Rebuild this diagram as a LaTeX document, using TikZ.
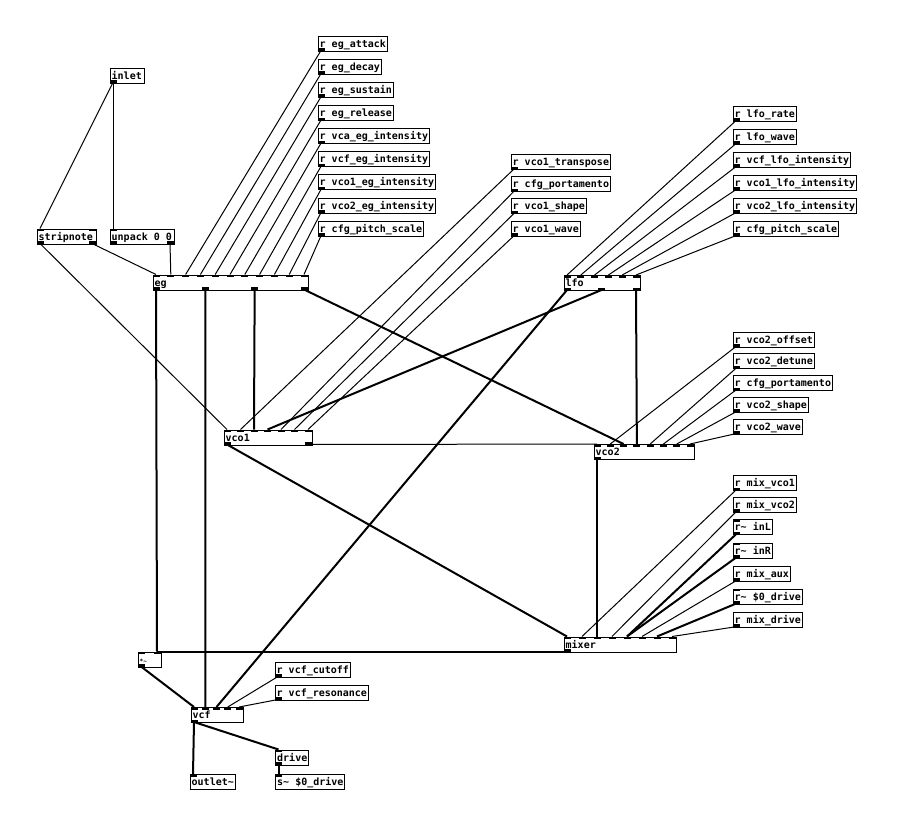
\documentclass[tikz,border=0pt]{standalone}
\usepackage{fontspec}
\setmonofont{DejaVu Sans Mono}
\usetikzlibrary{calc}
\tikzset{
  pdb/.style={draw, line width=1pt, minimum height=15pt, inner sep=0pt, anchor=north west},
  pdtxt/.style={font=\ttfamily\bfseries\fontsize{10}{10}\selectfont, inner sep=0pt, anchor=base west},
  ctl/.style={line width=1pt},
  sig/.style={line width=2pt},
}
\newcommand{\pdports}[8]{%
  \ifnum#5>0
  \foreach \k in {1,...,#5}{%
    \pgfmathtruncatemacro\pidx{\k-1}%
    \ifnum#5=1 \pgfmathsetmacro\pdX{#2+3.5}\else\pgfmathsetmacro\pdX{#2+3.5+(#4-7)*(\k-1)/(#5-1)}\fi
    \coordinate (#1-#6\pidx) at (\pdX,#3+#7);
    \fill (\pdX-3.5,#3+#7) rectangle (\pdX+3.5,#3+#8);
  }%
  \fi}
\newcommand{\pdbox}[7]{%
  \node[pdb, minimum width=#4pt] (#1) at (#2,#3) {};
  \node[pdtxt] at (#2+2,#3+11.5) {#5};
  \pdports{#1}{#2}{#3}{#4}{#6}{i}{0}{2.5}%
  \pdports{#1}{#2}{#3}{#4}{#7}{o}{15}{12.5}%
}
\begin{document}
\begin{tikzpicture}[x=1pt,y=-1pt]
\fill[white] (0,0) rectangle (905,833);
\useasboundingbox (0,0) rectangle (905,833);

% left column
\pdbox{inl}{109.5}{67.5}{34}{inlet}{0}{1}
\pdbox{strip}{36.5}{228.5}{59}{stripnote}{2}{2}
\pdbox{unp}{109.5}{228.5}{64}{unpack 0 0}{1}{2}
\pdbox{eg}{152.5}{274.5}{155}{eg}{11}{4}

% eg receives
\pdbox{rea}{317.5}{35.5}{69}{r eg\_attack}{0}{1}
\pdbox{red}{317.5}{58.6}{63}{r eg\_decay}{0}{1}
\pdbox{res}{317.5}{81.8}{75}{r eg\_sustain}{0}{1}
\pdbox{rer}{317.5}{105}{75}{r eg\_release}{0}{1}
\pdbox{rvca}{317.5}{128.1}{111}{r vca\_eg\_intensity}{0}{1}
\pdbox{rvcf}{317.5}{151.3}{111}{r vcf\_eg\_intensity}{0}{1}
\pdbox{rvae}{317.5}{174.4}{117}{r vco1\_eg\_intensity}{0}{1}
\pdbox{rvbe}{317.5}{197.6}{117}{r vco2\_eg\_intensity}{0}{1}
\pdbox{rpsa}{317.5}{220.7}{105}{r cfg\_pitch\_scale}{0}{1}

% vco1 receives
\pdbox{rvat}{510.5}{154}{99}{r vco1\_transpose}{0}{1}
\pdbox{rcpa}{510.5}{176.2}{99}{r cfg\_portamento}{0}{1}
\pdbox{rvas}{510.5}{198.4}{75}{r vco1\_shape}{0}{1}
\pdbox{rvaw}{510.5}{220.7}{69}{r vco1\_wave}{0}{1}

% lfo receives
\pdbox{rlr}{732.5}{105.6}{63}{r lfo\_rate}{0}{1}
\pdbox{rlw}{732.5}{128.6}{63}{r lfo\_wave}{0}{1}
\pdbox{rlvcf}{732.5}{151.6}{117}{r vcf\_lfo\_intensity}{0}{1}
\pdbox{rlva}{732.5}{174.6}{123}{r vco1\_lfo\_intensity}{0}{1}
\pdbox{rlvb}{732.5}{197.6}{123}{r vco2\_lfo\_intensity}{0}{1}
\pdbox{rpsb}{732.5}{220.6}{105}{r cfg\_pitch\_scale}{0}{1}
\pdbox{lfo}{563.5}{275}{76}{lfo}{6}{3}

% vco1 / vco2
\pdbox{vcoa}{223.5}{429.5}{88}{vco1}{7}{2}
\pdbox{vcob}{593.5}{444}{100}{vco2}{8}{1}
\pdbox{rvbo}{732.5}{331.5}{81}{r vco2\_offset}{0}{1}
\pdbox{rvbd}{732.5}{353.3}{81}{r vco2\_detune}{0}{1}
\pdbox{rcpb}{732.5}{375}{99}{r cfg\_portamento}{0}{1}
\pdbox{rvbs}{732.5}{396.8}{75}{r vco2\_shape}{0}{1}
\pdbox{rvbw}{732.5}{418.6}{69}{r vco2\_wave}{0}{1}

% mixer
\pdbox{mix}{563.5}{636.5}{112}{mixer}{8}{1}
\pdbox{rmva}{732.5}{475}{63}{r mix\_vco1}{0}{1}
\pdbox{rmvb}{732.5}{496.8}{63}{r mix\_vco2}{0}{1}
\pdbox{rinl}{732.5}{519.3}{39}{r\textasciitilde{} inL}{1}{1}
\pdbox{rinr}{732.5}{542.6}{39}{r\textasciitilde{} inR}{1}{1}
\pdbox{rmaux}{732.5}{565.8}{57}{r mix\_aux}{0}{1}
\pdbox{rdrv}{732.5}{588.6}{69}{r\textasciitilde{} \$0\_drive}{1}{1}
\pdbox{rmdrv}{732.5}{611.7}{69}{r mix\_drive}{0}{1}

% output section
\pdbox{mul}{137.5}{651.5}{23}{{\fontsize{6}{6}\selectfont *\textasciitilde}}{2}{1}
\pdbox{vcf}{190.5}{707}{52}{vcf}{5}{1}
\pdbox{rcut}{274.5}{661.5}{75}{r vcf\_cutoff}{0}{1}
\pdbox{rres}{274.5}{684.5}{93}{r vcf\_resonance}{0}{1}
\pdbox{drive}{275}{749.5}{33}{drive}{1}{1}
\pdbox{sdrv}{275}{774}{69}{s\textasciitilde{} \$0\_drive}{1}{0}
\pdbox{outl}{189.5}{774}{45}{outlet\textasciitilde}{1}{0}

% control wires
\draw[ctl] (inl-o0) -- (strip-i0);
\draw[ctl] (inl-o0) -- (unp-i0);
\draw[ctl] (strip-o1) -- (eg-i0);
\draw[ctl] (strip-o0) -- (vcoa-i0);
\draw[ctl] (unp-o1) -- (eg-i1);
\draw[ctl] (rea-o0) -- (eg-i2);
\draw[ctl] (red-o0) -- (eg-i3);
\draw[ctl] (res-o0) -- (eg-i4);
\draw[ctl] (rer-o0) -- (eg-i5);
\draw[ctl] (rvca-o0) -- (eg-i6);
\draw[ctl] (rvcf-o0) -- (eg-i7);
\draw[ctl] (rvae-o0) -- (eg-i8);
\draw[ctl] (rvbe-o0) -- (eg-i9);
\draw[ctl] (rpsa-o0) -- (eg-i10);
\draw[ctl] (rvat-o0) -- (vcoa-i1);
\draw[ctl] (rcpa-o0) -- (vcoa-i4);
\draw[ctl] (rvas-o0) -- (vcoa-i5);
\draw[ctl] (rvaw-o0) -- (vcoa-i6);
\draw[ctl] (rlr-o0) -- (lfo-i0);
\draw[ctl] (rlw-o0) -- (lfo-i1);
\draw[ctl] (rlvcf-o0) -- (lfo-i2);
\draw[ctl] (rlva-o0) -- (lfo-i3);
\draw[ctl] (rlvb-o0) -- (lfo-i4);
\draw[ctl] (rpsb-o0) -- (lfo-i5);
\draw[ctl] (vcoa-o1) -- (vcob-i0);
\draw[ctl] (rvbo-o0) -- (vcob-i1);
\draw[ctl] (rvbd-o0) -- (vcob-i4);
\draw[ctl] (rcpb-o0) -- (vcob-i5);
\draw[ctl] (rvbs-o0) -- (vcob-i6);
\draw[ctl] (rvbw-o0) -- (vcob-i7);
\draw[ctl] (rmva-o0) -- (mix-i1);
\draw[ctl] (rmvb-o0) -- (mix-i3);
\draw[ctl] (rmaux-o0) -- (mix-i5);
\draw[ctl] (rmdrv-o0) -- (mix-i7);
\draw[ctl] (rcut-o0) -- (vcf-i3);
\draw[ctl] (rres-o0) -- (vcf-i4);

% signal wires
\draw[sig] (eg-o0) -- (mul-i1);
\draw[sig] (eg-o1) -- (vcf-i1);
\draw[sig] (eg-o2) -- (vcoa-i2);
\draw[sig] (eg-o3) -- (vcob-i2);
\draw[sig] (lfo-o0) -- (vcf-i2);
\draw[sig] (lfo-o1) -- (vcoa-i3);
\draw[sig] (lfo-o2) -- (vcob-i3);
\draw[sig] (vcoa-o0) -- (mix-i0);
\draw[sig] (vcob-o0) -- (mix-i2);
\draw[sig] (rinl-o0) -- (mix-i4);
\draw[sig] (rinr-o0) -- (mix-i4);
\draw[sig] (rdrv-o0) -- (mix-i6);
\draw[sig] (mix-o0) -- (mul-i1);
\draw[sig] (mul-o0) -- (vcf-i0);
\draw[sig] (vcf-o0) -- (outl-i0);
\draw[sig] (vcf-o0) -- (drive-i0);
\draw[sig] (drive-o0) -- (sdrv-i0);
\end{tikzpicture}
\end{document}
